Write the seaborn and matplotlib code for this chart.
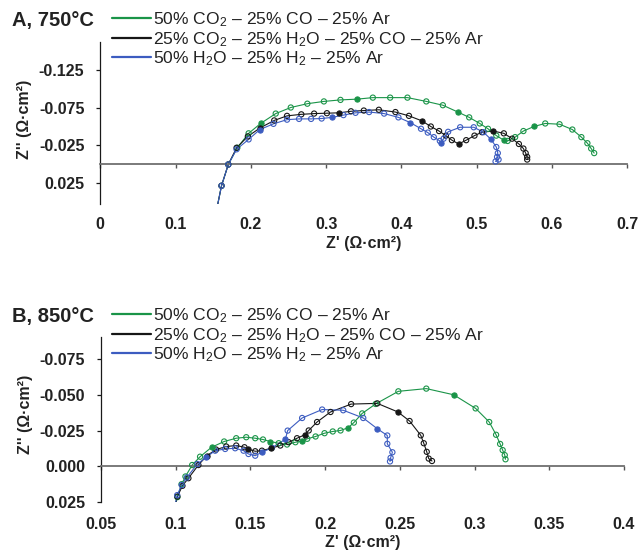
import matplotlib
matplotlib.use("Agg")
import matplotlib.pyplot as plt
import seaborn as sns
import pandas as pd
from matplotlib.lines import Line2D

sns.set_style("white")
plt.rcParams["font.family"] = ["Liberation Sans", "DejaVu Sans"]
plt.rcParams["mathtext.fontset"] = "custom"
plt.rcParams["mathtext.rm"] = "Liberation Sans"
plt.rcParams["mathtext.default"] = "regular"

# ---------------- data ----------------
series_labels = [r"50% CO$_2$ – 25% CO – 25% Ar",
                 r"25% CO$_2$ – 25% H$_2$O – 25% CO – 25% Ar",
                 r"50% H$_2$O – 25% H$_2$ – 25% Ar"]
series_colors = ["#1a9448", "#161616", "#3c5cc0"]

# Panel A, 750 C
a_green_x = [0.154, 0.161, 0.170, 0.182, 0.197, 0.213, 0.233, 0.253, 0.275, 0.297, 0.319, 0.341,
             0.362, 0.385, 0.408, 0.433, 0.455, 0.475, 0.490, 0.504, 0.515, 0.526, 0.536, 0.541,
             0.551, 0.562, 0.576, 0.591, 0.610, 0.627, 0.639, 0.647, 0.652, 0.656]
a_green_y = [0.062, 0.028, 0.000, -0.022, -0.041, -0.054, -0.067, -0.075, -0.080, -0.083, -0.085, -0.086,
             -0.088, -0.088, -0.088, -0.083, -0.078, -0.069, -0.062, -0.054, -0.047, -0.038, -0.032, -0.031,
             -0.036, -0.044, -0.050, -0.054, -0.053, -0.046, -0.036, -0.028, -0.021, -0.015]
a_green_f = [0, 0, 0, 0, 0, 1, 0, 0, 0, 0, 0, 1, 0, 0, 0, 0, 0, 1, 0, 0, 0, 0, 1, 0, 0, 0, 1, 0, 0, 0, 0, 0, 0, 0]

a_black_x = [0.154, 0.161, 0.170, 0.181, 0.196, 0.212, 0.231, 0.248, 0.267, 0.284, 0.301, 0.317,
             0.333, 0.350, 0.370, 0.392, 0.410, 0.427, 0.439, 0.450, 0.459, 0.467, 0.476, 0.486,
             0.497, 0.507, 0.522, 0.536, 0.547, 0.556, 0.562, 0.565, 0.567, 0.567]
a_black_y = [0.062, 0.028, 0.000, -0.022, -0.037, -0.048, -0.058, -0.064, -0.066, -0.067, -0.0675, -0.068,
             -0.070, -0.071, -0.072, -0.069, -0.064, -0.0575, -0.050, -0.044, -0.038, -0.032, -0.027, -0.032,
             -0.038, -0.0425, -0.044, -0.041, -0.034, -0.027, -0.021, -0.015, -0.010, -0.0065]
a_black_f = [0, 0, 0, 0, 0, 1, 0, 0, 0, 0, 0, 1, 0, 0, 0, 0, 0, 1, 0, 0, 0, 0, 1, 0, 0, 0, 1, 0, 0, 0, 0, 0, 0, 0]

a_blue_x = [0.154, 0.161, 0.170, 0.181, 0.197, 0.212, 0.230, 0.248, 0.264, 0.280, 0.294, 0.308,
            0.323, 0.339, 0.357, 0.377, 0.396, 0.412, 0.426, 0.435, 0.443, 0.451, 0.453, 0.456,
            0.462, 0.478, 0.496, 0.509, 0.519, 0.526, 0.528, 0.527, 0.529, 0.525]
a_blue_y = [0.062, 0.028, 0.000, -0.020, -0.033, -0.046, -0.0535, -0.059, -0.060, -0.060, -0.0605, -0.062,
            -0.065, -0.068, -0.069, -0.067, -0.062, -0.055, -0.047, -0.042, -0.036, -0.031, -0.0285, -0.034,
            -0.043, -0.049, -0.049, -0.0425, -0.033, -0.023, -0.015, -0.010, -0.0065, -0.004]
a_blue_f = [0, 0, 0, 0, 0, 1, 0, 0, 0, 0, 0, 1, 0, 0, 0, 0, 0, 1, 0, 0, 0, 0, 1, 0, 0, 0, 0, 0, 1, 0, 0, 0, 0, 0]

# Panel B, 850 C
b_green_x = [0.0985, 0.1011, 0.1039, 0.1065, 0.111, 0.1163, 0.124, 0.1324, 0.1405, 0.1472, 0.1532, 0.1584,
             0.1633, 0.1689, 0.1745, 0.1801, 0.1846, 0.188, 0.1936, 0.1996, 0.2051, 0.2103, 0.2154, 0.2192,
             0.2248, 0.2338, 0.249, 0.2677, 0.286, 0.3007, 0.3098, 0.3144, 0.3171, 0.3188, 0.3202, 0.3207]
b_green_y = [0.032, 0.0214, 0.0124, 0.007, -0.001, -0.0068, -0.0134, -0.0174, -0.0197, -0.0204, -0.0197, -0.0188,
             -0.0174, -0.0162, -0.0153, -0.0169, -0.0176, -0.0193, -0.0209, -0.0232, -0.0244, -0.0251, -0.027, -0.0306,
             -0.037, -0.0436, -0.0524, -0.0543, -0.050, -0.0405, -0.031, -0.0221, -0.0157, -0.0114, -0.0079, -0.005]
b_green_f = [0, 0, 0, 0, 0, 0, 1, 0, 0, 0, 0, 0, 1, 0, 0, 0, 1, 0, 0, 0, 0, 0, 1, 0, 0, 0, 0, 0, 1, 0, 0, 0, 0, 0, 0, 0]

b_black_x = [0.0985, 0.1011, 0.1045, 0.1085, 0.1152, 0.1208, 0.127, 0.1338, 0.1405, 0.146, 0.1487, 0.1532,
             0.1577, 0.1637, 0.170, 0.1756, 0.1812, 0.1864, 0.189, 0.1946, 0.2036, 0.2174, 0.2349, 0.2487,
             0.2565, 0.264, 0.266, 0.268, 0.2693, 0.2715]
b_black_y = [0.032, 0.021, 0.0135, 0.0082, -0.001, -0.0075, -0.0118, -0.0139, -0.0146, -0.0134, -0.012, -0.0106,
             -0.011, -0.0127, -0.0146, -0.0169, -0.0197, -0.0221, -0.0251, -0.031, -0.038, -0.0435, -0.044, -0.038,
             -0.0317, -0.0217, -0.0162, -0.0102, -0.0055, -0.0038]
b_black_f = [0, 0, 0, 0, 0, 1, 0, 0, 0, 0, 1, 0, 0, 1, 0, 0, 0, 1, 0, 0, 0, 0, 0, 1, 0, 0, 0, 0, 0, 0]

b_blue_x = [0.0985, 0.101, 0.104, 0.1074, 0.1145, 0.1205, 0.1264, 0.1331, 0.1398, 0.1454, 0.1487, 0.1532,
            0.1577, 0.1644, 0.1734, 0.1749, 0.1846, 0.198, 0.2121, 0.2255, 0.2349, 0.2416, 0.2416, 0.245,
            0.2438, 0.2434]
b_blue_y = [0.032, 0.020, 0.013, 0.0077, -0.0017, -0.0065, -0.011, -0.0122, -0.0127, -0.011, -0.0087, -0.0075,
            -0.0099, -0.013, -0.019, -0.025, -0.0338, -0.0397, -0.0392, -0.0338, -0.0263, -0.0216, -0.0158, -0.0099,
            -0.006, -0.0035]
b_blue_f = [0, 0, 0, 0, 0, 1, 0, 0, 0, 0, 0, 0, 1, 0, 1, 0, 0, 0, 0, 0, 1, 0, 0, 0, 0, 0]

a_xticks = [0, 0.1, 0.2, 0.3, 0.4, 0.5, 0.6, 0.7]
a_xticklabels = ["0", "0.1", "0.2", "0.3", "0.4", "0.5", "0.6", "0.7"]
a_yticks = [-0.125, -0.075, -0.025, 0.025]
a_yticklabels = ["-0.125", "-0.075", "-0.025", "0.025"]
b_xticks = [0.05, 0.1, 0.15, 0.2, 0.25, 0.3, 0.35, 0.4]
b_xticklabels = ["0.05", "0.1", "0.15", "0.2", "0.25", "0.3", "0.35", "0.4"]
b_yticks = [-0.075, -0.050, -0.025, 0.0, 0.025]
b_yticklabels = ["-0.075", "-0.050", "-0.025", "0.000", "0.025"]

# ---------------- figure ----------------
W, H = 640, 550
fig = plt.figure(figsize=(W / 100, H / 100), dpi=100)


def frac_box(l, t, r, b):
    return [l / W, 1 - b / H, (r - l) / W, (b - t) / H]


axA = fig.add_axes(frac_box(100.3, 41.7, 627.3, 204))
axB = fig.add_axes(frac_box(101, 336.7, 624, 502.3))


def draw_series(ax, xs, ys, fs, color):
    df = pd.DataFrame({"x": xs, "y": ys, "filled": fs})
    sns.lineplot(data=df, x="x", y="y", sort=False, estimator=None, color=color,
                 linewidth=0.8, ax=ax, zorder=2)
    hol = df[df["filled"] == 0]
    sol = df[df["filled"] == 1]
    sns.scatterplot(data=hol, x="x", y="y", ax=ax, s=14, color=color, marker="o",
                    linewidth=0.8, edgecolor=color, zorder=3)
    ax.collections[-1].set_facecolor("none")
    sns.scatterplot(data=sol, x="x", y="y", ax=ax, s=14, color=color, marker="o",
                    linewidth=0.8, edgecolor=color, zorder=4)


A_series = [(a_green_x, a_green_y, a_green_f), (a_black_x, a_black_y, a_black_f),
            (a_blue_x, a_blue_y, a_blue_f)]
B_series = [(b_green_x, b_green_y, b_green_f), (b_black_x, b_black_y, b_black_f),
            (b_blue_x, b_blue_y, b_blue_f)]

for (xs, ys, fs), c in zip(A_series, series_colors):
    draw_series(axA, xs, ys, fs, c)
for (xs, ys, fs), c in zip(B_series, series_colors):
    draw_series(axB, xs, ys, fs, c)


def style_axes(ax, xlim, ylim, xt, xtl, yt, ytl, xpad, xlab_y, ylab_y):
    ax.set_xlim(*xlim)
    ax.set_ylim(*ylim)  # inverted: negative up
    for s in ["top", "right"]:
        ax.spines[s].set_visible(False)
    ax.spines["bottom"].set_position(("data", 0))
    ax.spines["bottom"].set_color("#707070")
    ax.spines["bottom"].set_linewidth(1.3)
    ax.spines["left"].set_color("#1a1a1a")
    ax.spines["left"].set_linewidth(0.9)
    ax.set_xticks(xt)
    ax.set_xticklabels(xtl)
    ax.set_yticks(yt)
    ax.set_yticklabels(ytl)
    ax.tick_params(axis="x", direction="out", length=3.2, width=1.0, color="#555555",
                   pad=xpad, labelsize=11.5, bottom=True)
    ax.tick_params(axis="y", direction="out", length=3.2, width=0.9, color="#1a1a1a",
                   pad=8.2, labelsize=11.5, left=True)
    for lab in ax.get_xticklabels() + ax.get_yticklabels():
        lab.set_fontweight("bold")
        lab.set_color("#222222")
    ax.set_xlabel("Z' (Ω·cm²)", fontsize=11.5, fontweight="bold", color="#222222")
    ax.set_ylabel("Z'' (Ω·cm²)", fontsize=11.5, fontweight="bold", color="#222222")
    ax.xaxis.set_label_coords(0.5, xlab_y)
    ax.yaxis.set_label_coords(-0.13, ylab_y)
    ax.grid(False)


style_axes(axA, (0, 0.7), (0.052, -0.1616), a_xticks, a_xticklabels, a_yticks, a_yticklabels,
           34.8, -0.195, 0.52)
style_axes(axB, (0.05, 0.4), (0.025, -0.0905), b_xticks, b_xticklabels, b_yticks, b_yticklabels,
           33.0, -0.196, 0.53)

handles = [Line2D([], [], color=c, lw=1.6) for c in series_colors]
for ax, title, ty in [(axA, "A, 750°C", 20.5), (axB, "B, 850°C", 316.5)]:
    fig.text(12 / W, 1 - ty / H, title, fontsize=14.5, fontweight="bold", va="center",
             ha="left", color="#222222")
    fig.legend(handles=handles, labels=series_labels, loc="upper left",
               bbox_to_anchor=(112 / W, 1 - (ty - 10) / H), frameon=False, fontsize=12.6,
               handlelength=2.2, handletextpad=0.12, labelspacing=0.04, borderpad=0,
               borderaxespad=0, labelcolor="#222222")

fig.savefig("out.png", dpi=100)
